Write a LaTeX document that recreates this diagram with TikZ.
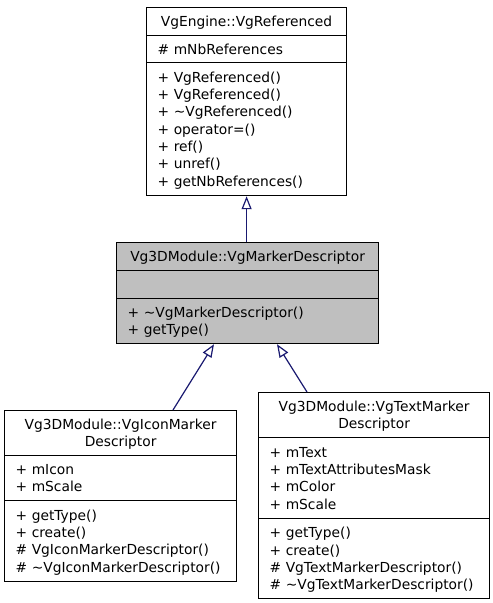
\documentclass[tikz,border=0pt]{standalone}
\usepackage{fontspec}
\setmainfont{DejaVu Sans}
\usetikzlibrary{arrows.meta}
\definecolor{edgeblue}{HTML}{191970}
\definecolor{boxgray}{HTML}{BFBFBF}
\newcommand\ms{\rule[-3.6pt]{0pt}{17.3pt}}
\begin{document}
\begin{tikzpicture}[x=1pt,y=-1pt,
  part/.style={draw=black, line width=1.2pt, anchor=north west, inner xsep=11pt, inner ysep=0pt,
    font={\fontsize{13.8}{17.3}\selectfont}, align=left},
  ttl/.style={part, align=center},
  hl/.style={fill=boxgray},
  edge/.style={draw=edgeblue, line width=1.2pt, -{Triangle[open, length=13pt, width=10pt, line width=1.2pt]}}
]
\fill[white] (0,0) rectangle (493,603);
\useasboundingbox (0,0) rectangle (493,603);

% top class
\node[ttl, text width=178pt, minimum height=28pt] (A1) at (146,7) {\ms VgEngine::VgReferenced};
\node[part, text width=178pt, minimum height=27pt] (A2) at (146,35) {\ms \# mNbReferences};
\node[part, text width=178pt, minimum height=133pt] (A3) at (146,62) {\ms + VgReferenced()\\\ms + VgReferenced()\\\ms + \textasciitilde VgReferenced()\\\ms + operator=()\\\ms + ref()\\\ms + unref()\\\ms + getNbReferences()};

% middle class
\node[ttl, hl, text width=240pt, minimum height=28pt] (B1) at (116,242) {\ms Vg3DModule::VgMarkerDescriptor};
\node[part, hl, text width=240pt, minimum height=28pt] (B2) at (116,270) {};
\node[part, hl, text width=240pt, minimum height=45pt] (B3) at (116,298) {\ms + \textasciitilde VgMarkerDescriptor()\\\ms + getType()};

% left class
\node[ttl, text width=210pt, minimum height=45pt] (C1) at (4,410) {\ms Vg3DModule::VgIconMarker\\\ms Descriptor};
\node[part, text width=210pt, minimum height=45pt] (C2) at (4,455) {\ms + mIcon\\\ms + mScale};
\node[part, text width=210pt, minimum height=81pt] (C3) at (4,500) {\ms + getType()\\\ms + create()\\\ms \# VgIconMarkerDescriptor()\\\ms \# \textasciitilde VgIconMarkerDescriptor()};

% right class
\node[ttl, text width=209pt, minimum height=45pt] (D1) at (258,392) {\ms Vg3DModule::VgTextMarker\\\ms Descriptor};
\node[part, text width=209pt, minimum height=81pt] (D2) at (258,437) {\ms + mText\\\ms + mTextAttributesMask\\\ms + mColor\\\ms + mScale};
\node[part, text width=209pt, minimum height=80pt] (D3) at (258,518) {\ms + getType()\\\ms + create()\\\ms \# VgTextMarkerDescriptor()\\\ms \# \textasciitilde VgTextMarkerDescriptor()};

% inheritance edges
\draw[edge] (A3.south |- B1.north) -- (A3.south);
\draw[edge] ([xshift=169pt]C1.north west) -- ([xshift=98pt]B3.south west);
\draw[edge] ([xshift=49pt]D1.north west) -- ([xshift=161pt]B3.south west);
\end{tikzpicture}
\end{document}
